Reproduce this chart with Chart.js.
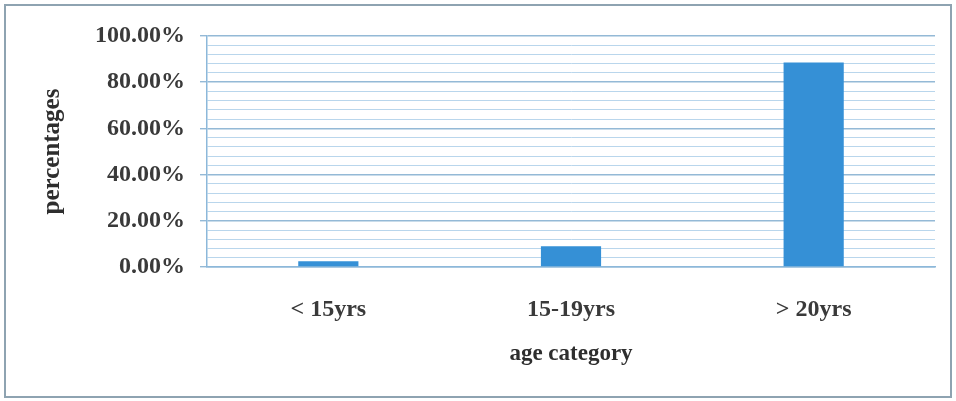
<!DOCTYPE html>
<html>
<head>
<meta charset="utf-8">
<script src="https://cdn.jsdelivr.net/npm/chart.js@4/dist/chart.umd.min.js"></script>
<style>
  html, body { margin: 0; padding: 0; background: #ffffff; }
  #wrap { position: relative; width: 956px; height: 401px; }
</style>
</head>
<body>
<div id="wrap"><canvas id="chart" width="956" height="401"></canvas></div>
<script>
// Age category breakdown (percent of respondents)
const categories = ['< 15yrs', '15-19yrs', '> 20yrs'];
const percentages = [2.5, 9.0, 88.5];

// Value axis: 0–100 with a line every 4 and a label every 20
const yMin = 0;
const yMax = 100;
const yStep = 4;
const yLabelEvery = 20;

const SERIF = '"Liberation Serif", "Times New Roman", serif';

// Outer frame around the whole figure
const framePlugin = {
  id: 'frame',
  afterDraw(chart) {
    const ctx = chart.ctx;
    ctx.save();
    ctx.strokeStyle = '#8ea3b1';
    ctx.lineWidth = 2;
    ctx.strokeRect(5, 5, 946, 392);
    ctx.restore();
  }
};

const isMajor = (v) => Math.abs(v % yLabelEvery) < 1e-6;

new Chart(document.getElementById('chart'), {
  type: 'bar',
  data: {
    labels: categories,
    datasets: [{
      data: percentages,
      backgroundColor: '#3590d6',
      borderWidth: 0,
      barPercentage: 0.248,
      categoryPercentage: 1.0
    }]
  },
  options: {
    responsive: false,
    animation: false,
    devicePixelRatio: 1,
    layout: { padding: { left: 10, right: 21, top: 36, bottom: 10 } },
    plugins: {
      legend: { display: false },
      tooltip: { enabled: false }
    },
    scales: {
      x: {
        grid: { display: false, drawTicks: false },
        border: { display: true, color: '#8cb8da', width: 1.5 },
        ticks: {
          color: '#3a3a3a',
          font: { family: SERIF, size: 24, weight: 'bold' },
          padding: 28,
          maxRotation: 0
        },
        title: {
          display: true,
          text: 'age category',
          color: '#2e2e2e',
          font: { family: SERIF, size: 23, weight: 'bold' },
          padding: { top: 0, bottom: 23 }
        },
        afterFit(scale) { scale.height = 124; }
      },
      y: {
        min: yMin,
        max: yMax,
        grid: {
          color: (c) => isMajor(c.tick.value) ? '#94b9d6' : '#b9d6ec',
          lineWidth: (c) => isMajor(c.tick.value) ? 1.4 : 1,
          tickColor: (c) => isMajor(c.tick.value) ? '#94b9d6' : 'rgba(0,0,0,0)',
          tickLength: 7,
          drawTicks: true
        },
        border: { display: true, color: '#8cb8da', width: 1.5 },
        ticks: {
          stepSize: yStep,
          autoSkip: false,
          padding: 15,
          color: '#3a3a3a',
          font: { family: SERIF, size: 24, weight: 'bold' },
          callback: (v) => isMajor(v) ? v.toFixed(2) + '%' : ''
        },
        title: {
          display: true,
          text: 'percentages',
          color: '#2e2e2e',
          font: { family: SERIF, size: 25, weight: 'bold' },
          padding: { top: 28, bottom: 0 }
        },
        afterFit(scale) { scale.width = 197; }
      }
    }
  },
  plugins: [framePlugin]
});
</script>
</body>
</html>
